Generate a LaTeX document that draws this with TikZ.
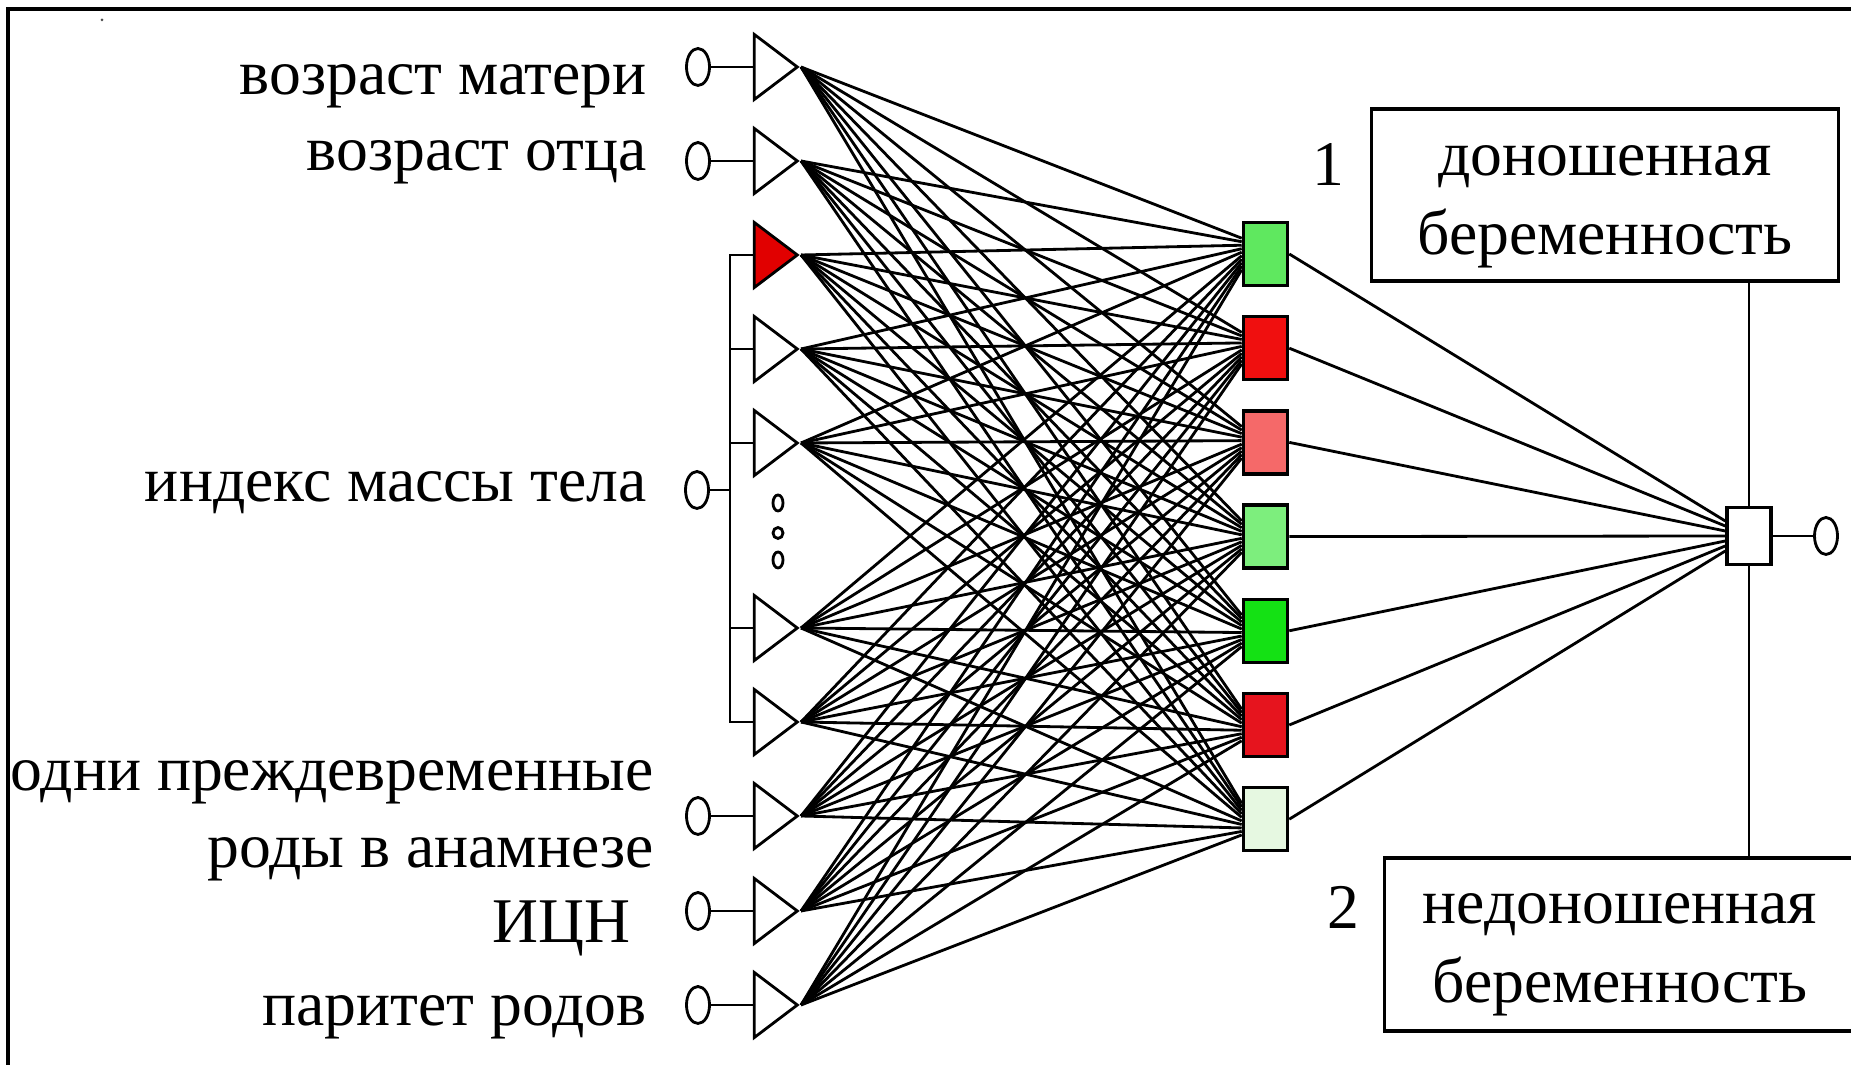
\documentclass[tikz,border=0pt]{standalone}
\usepackage{fontspec}
\setmainfont{Liberation Serif}
\usetikzlibrary{shapes.geometric}
\definecolor{inred}{RGB}{225,0,0}
\definecolor{hgA}{RGB}{95,232,95}
\definecolor{hrA}{RGB}{240,15,15}
\definecolor{hrB}{RGB}{245,105,105}
\definecolor{hgB}{RGB}{125,238,125}
\definecolor{hgC}{RGB}{20,225,20}
\definecolor{hrC}{RGB}{230,20,30}
\definecolor{hgD}{RGB}{230,248,225}
\begin{document}
\begin{tikzpicture}[x=0.01cm, y=-0.01cm, line width=0.8pt,
	inp/.style = {isosceles triangle, isosceles triangle stretches, draw, inner sep=0pt, minimum width=0.65cm, minimum height=0.43cm, anchor=apex},
	hid/.style = {rectangle, draw, line width=1pt, minimum width=0.44cm, minimum height=0.63cm, inner sep=0pt},
	pin/.style = {ellipse, draw, inner sep=0pt, minimum width=0.23cm, minimum height=0.37cm},
	txt/.style = {inner sep=0pt, align=center, font=\fontsize{18.1}{22.5}\selectfont},
	lbl/.style = {txt, anchor=east},
	cls/.style = {rectangle, draw, line width=1pt}]
	\useasboundingbox (0,0) rectangle (1851,1065);
	\clip (0,0) rectangle (1851,1065);
	\draw[line width=1pt] (8,1100) -- (8,9) -- (1900,9);
	\fill[black!70] (102,20) circle (1.5);
	% input layer
	\foreach \y/\c [count=\i] in {67/white, 161/white, 255/inred, 349/white, 443/white, 628/white, 722/white, 816/white, 911/white, 1005/white}
		\node (t\i) at (801,\y)	[inp, fill=\c]	{};
	\foreach \i/\y in {1/67, 2/161, 8/816, 9/911, 10/1005} {
		\node (c\i) at (698,\y)	[pin]	{};
		\draw (c\i.east) -- (t\i.west);
	}
	\node (c3) at (697,490)	[pin]	{};
	\coordinate (bj) at (730,490);
	\draw (c3.east) -- (bj);
	\foreach \i in {3,...,7}
		\draw (bj) |- (t\i.west);
	\node (d1) at (778,503)	[ellipse, draw, inner sep=0pt, minimum width=0.1cm, minimum height=0.16cm]	{};
	\node (d2) at (778,533)	[ellipse, draw, inner sep=0pt, minimum width=0.1cm, minimum height=0.11cm]	{};
	\node (d3) at (778,560)	[ellipse, draw, inner sep=0pt, minimum width=0.1cm, minimum height=0.16cm]	{};
	% hidden layer
	\foreach \c [count=\j] in {hgA, hrA, hrB, hgB, hgC, hrC, hgD}
		\node (h\j) at (1265.5,{254+94.2*(\j-1)})	[hid, fill=\c]	{};
	\foreach \i in {1,...,10}
		\foreach \j in {1,...,7}
			\draw (t\i.apex) -- ([yshift={(5.5-\i)*0.035cm}]h\j.west);
	% output
	\node (out) at (1749,536)	[hid, fill=white, minimum width=0.44cm, minimum height=0.57cm]	{};
	\node (o) at (1826,536)	[pin]	{};
	\draw (out.east) -- (o.west);
	\foreach \j in {1,...,7}
		\draw (h\j.east) -- ([yshift={(4-\j)*0.05cm}]out.west);
	\node (yes) at (1605,195)	[cls, minimum width=4.67cm, minimum height=1.72cm]	{};
	\node (yest) at (1605,207)	[txt]	{доношенная\\беременность};
	\node (no) at (1622,944.5)	[cls, minimum width=4.75cm, minimum height=1.73cm]	{};
	\node (not) at (1620,955)	[txt]	{недоношенная\\беременность};
	\node (n1) at (1328,165)	[txt]	{1};
	\node (n2) at (1343,907)	[txt]	{2};
	\draw (out.north) -- (yes.south -| out.north);
	\draw (out.south) -- (no.north -| out.south);
	% labels
	\node (l1) at (648,86)	[lbl]	{возраст матери};
	\node (l2) at (648,162)	[lbl]	{возраст отца};
	\node (l3) at (648,493)	[lbl]	{индекс массы тела};
	\node (l4) at (655,782)	[lbl]	{одни преждевременные};
	\node (l5) at (655,859)	[lbl]	{роды в анамнезе};
	\node (l6) at (632,928)	[lbl]	{ИЦН};
	\node (l7) at (648,1017)	[lbl]	{паритет родов};
\end{tikzpicture}
\end{document}
